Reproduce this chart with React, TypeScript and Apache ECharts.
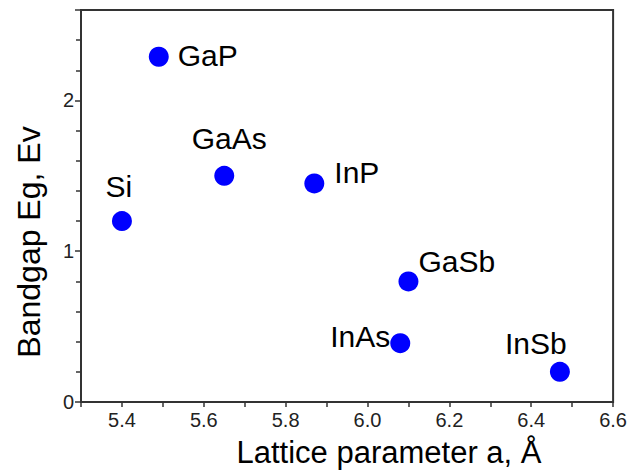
import React, { useEffect, useRef } from "react";
import * as echarts from "echarts";

// III-V and group IV semiconductors: lattice constant vs. band gap
const materials = ["GaP", "GaAs", "Si", "InP", "GaSb", "InAs", "InSb"];
const latticeA = [5.49, 5.65, 5.4, 5.87, 6.1, 6.08, 6.47];
const bandgapEg = [2.29, 1.5, 1.2, 1.45, 0.8, 0.39, 0.2];

// where each material's name sits around its dot
const labelPlacement: { position: string; distance: number; offset: [number, number] }[] = [
  { position: "right", distance: 9, offset: [0, -1] },
  { position: "top", distance: 12, offset: [5, 0] },
  { position: "top", distance: 10, offset: [-3, 0] },
  { position: "right", distance: 10, offset: [0, -11] },
  { position: "right", distance: 0, offset: [0, -20] },
  { position: "left", distance: 0, offset: [0, -7] },
  { position: "top", distance: 3, offset: [-24, 0] },
];

const FONT = "'Liberation Sans', Arial, sans-serif";
const AXIS_COLOR = "#333333";

export default function App() {
  const ref = useRef<HTMLDivElement>(null);

  useEffect(() => {
    document.body.style.margin = "0";
    if (!ref.current) return;
    const chart = echarts.init(ref.current, undefined, { renderer: "svg" });

    const data = materials.map((name, i) => ({
      name,
      value: [latticeA[i], bandgapEg[i]],
      label: {
        show: true,
        formatter: name,
        position: labelPlacement[i].position,
        distance: labelPlacement[i].distance,
        offset: labelPlacement[i].offset,
      },
    }));

    chart.setOption({
      animation: false,
      backgroundColor: "#ffffff",
      textStyle: { fontFamily: FONT },
      grid: {
        left: 81,
        right: 14,
        top: 10,
        bottom: 68,
        show: true,
        borderColor: AXIS_COLOR,
        borderWidth: 2,
        backgroundColor: "transparent",
      },
      xAxis: {
        type: "value",
        min: 5.3,
        max: 6.6,
        interval: 0.1,
        axisLine: { show: true, lineStyle: { color: AXIS_COLOR, width: 2 } },
        axisTick: { show: true, length: 5, lineStyle: { color: AXIS_COLOR, width: 1.5 } },
        axisLabel: {
          color: "#222",
          fontSize: 20,
          fontFamily: FONT,
          margin: 8,
          formatter: (v: number) => {
            const k = Math.round(v * 10);
            return k % 2 === 0 ? (k / 10).toFixed(1) : "";
          },
        },
        splitLine: { show: false },
      },
      yAxis: {
        type: "value",
        min: 0,
        max: 2.6,
        interval: 1,
        axisLine: { show: true, lineStyle: { color: AXIS_COLOR, width: 2 } },
        axisTick: { show: true, length: 6, lineStyle: { color: AXIS_COLOR, width: 1.5 } },
        minorTick: { show: true, splitNumber: 5, length: 5, lineStyle: { color: AXIS_COLOR, width: 1.5 } },
        axisLabel: {
          color: "#222",
          fontSize: 20,
          fontFamily: FONT,
          margin: 7,
          showMaxLabel: false,
        },
        splitLine: { show: false },
        minorSplitLine: { show: false },
      },
      graphic: [
        {
          type: "text",
          x: 389,
          y: 452,
          style: {
            text: "Lattice parameter a, Å",
            font: `31px ${FONT}`,
            fill: "#000",
            textAlign: "center",
            textVerticalAlign: "middle",
          },
        },
        {
          type: "text",
          x: 29,
          y: 242,
          rotation: Math.PI / 2,
          style: {
            text: "Bandgap Eg, Ev",
            font: `32px ${FONT}`,
            fill: "#000",
            textAlign: "center",
            textVerticalAlign: "middle",
          },
        },
      ],
      series: [
        {
          type: "scatter",
          symbol: "circle",
          symbolSize: 20,
          itemStyle: { color: "#0000ff", opacity: 1 },
          label: {
            show: true,
            color: "#000",
            fontSize: 30,
            fontFamily: FONT,
          },
          data,
        },
      ],
    });

    return () => chart.dispose();
  }, []);

  return <div ref={ref} style={{ width: 630, height: 470 }} />;
}
